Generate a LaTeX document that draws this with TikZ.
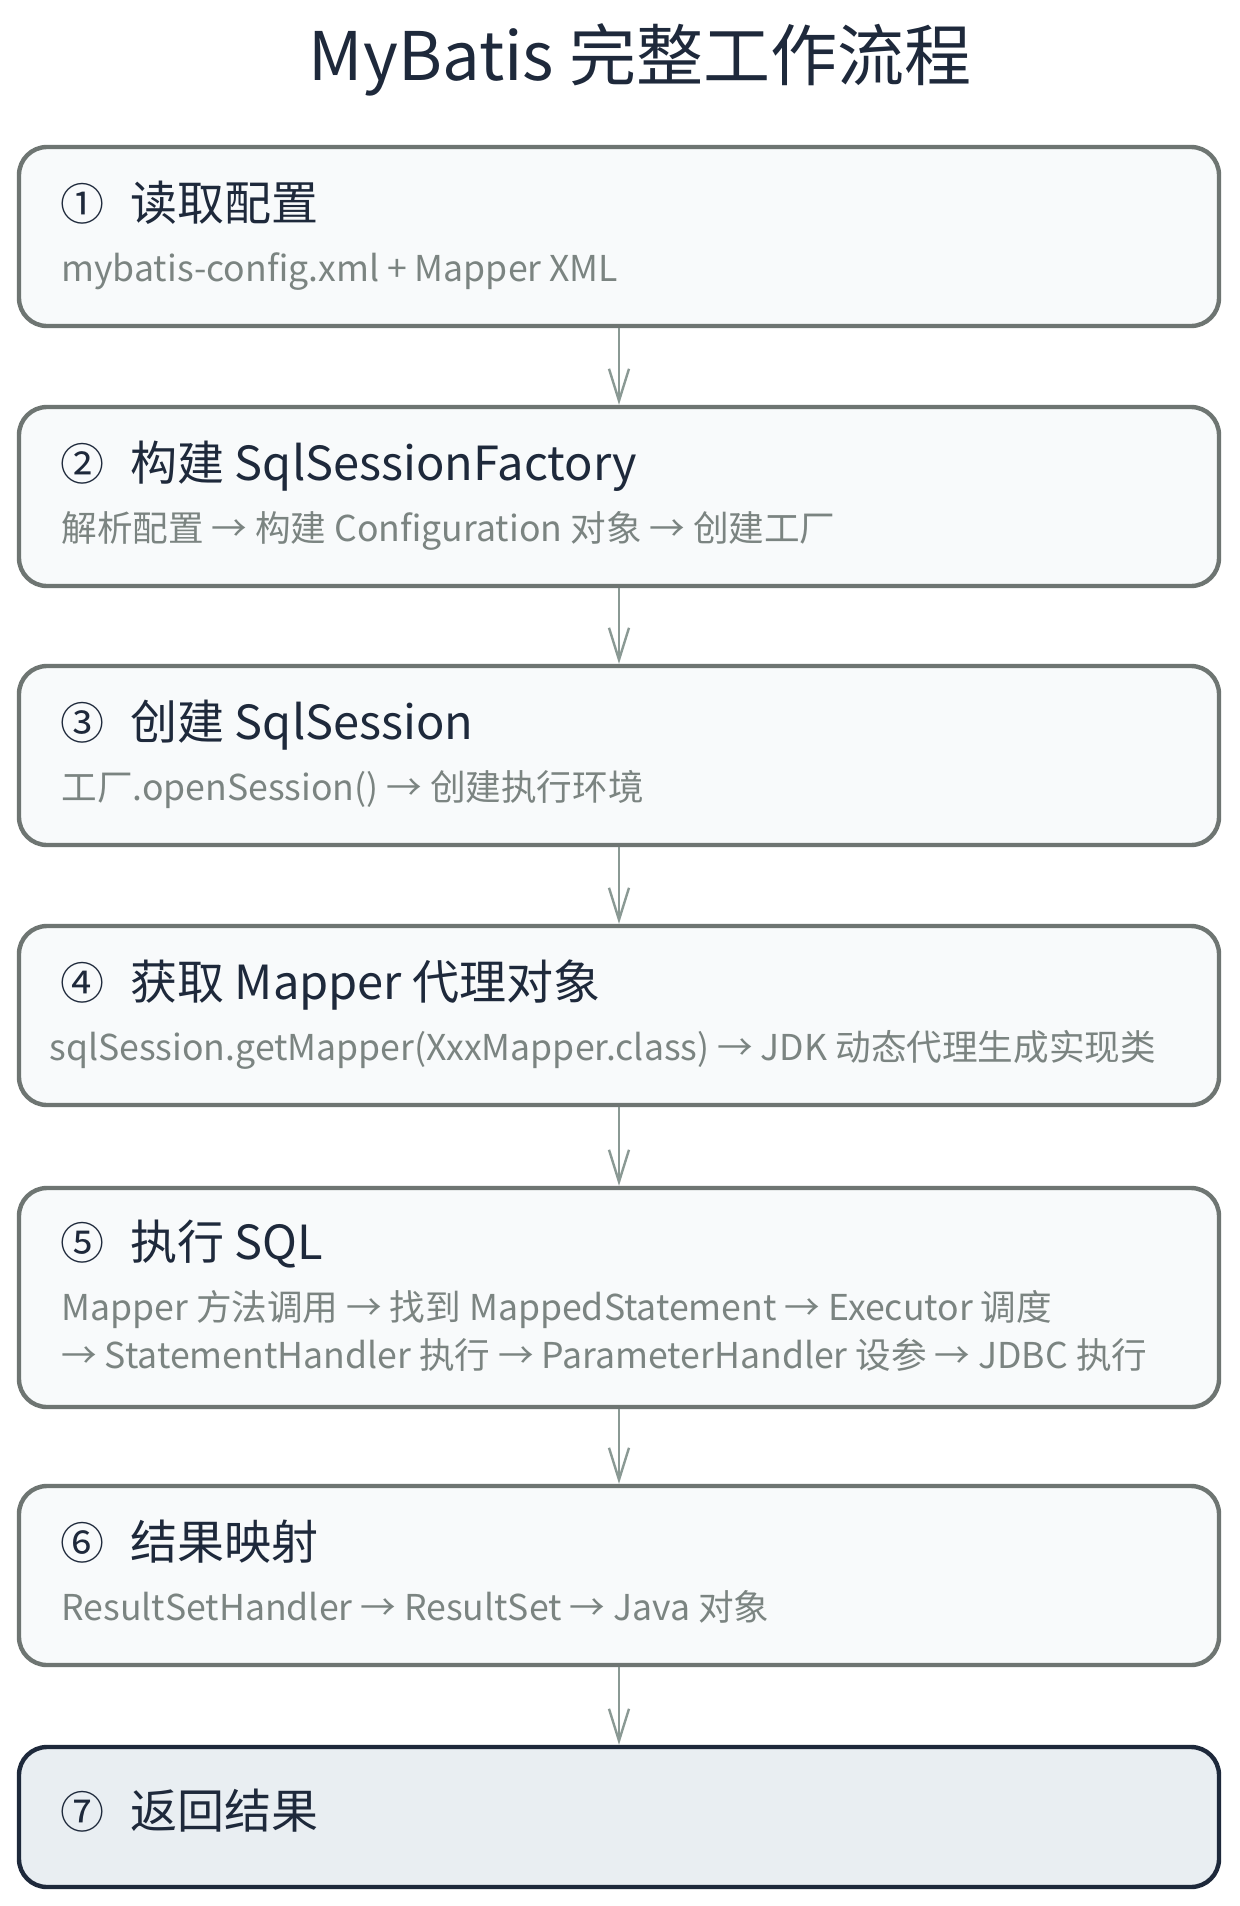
\documentclass[tikz,border=0pt]{standalone}
\usepackage{fontspec}
\setmainfont{Noto Sans CJK SC}
\usetikzlibrary{arrows.meta}
\definecolor{ink}{HTML}{1E293B}
\definecolor{subc}{HTML}{7B8481}
\definecolor{edgec}{HTML}{6E7572}
\definecolor{fillc}{HTML}{F8FAFB}
\definecolor{lastfill}{HTML}{E9EEF2}
\definecolor{arrowc}{HTML}{8A9994}
\begin{document}
\begin{tikzpicture}[x=0.5pt,y=-0.5pt,
  stepbox/.style={draw=edgec, line width=2.2pt, fill=fillc, rounded corners=14pt,
    minimum width=600pt, inner sep=0pt},
  lastbox/.style={stepbox, draw=ink, fill=lastfill},
  numtxt/.style={anchor=base, inner sep=0pt, text=ink, font=\fontsize{22pt}{26pt}\selectfont},
  headtxt/.style={anchor=base west, inner sep=0pt, text=ink, font=\fontsize{23.5pt}{28pt}\selectfont},
  subtxt/.style={anchor=base west, inner sep=0pt, text=subc, font=\fontsize{17.8pt}{21pt}\selectfont},
  flow/.style={draw=arrowc, line width=1.2pt, -{Straight Barb[length=16pt,width=10pt]}}
]
\useasboundingbox[fill=white] (0,0) rectangle (1240,1906);

\node[anchor=base, inner sep=0pt, text=ink, font=\fontsize{33.5pt}{38pt}\selectfont] (title) at (640,80) {MyBatis 完整工作流程};

% boxes
\node[stepbox, minimum height=89.5pt] (b1) at (619,236.5) {};
\node[stepbox, minimum height=89.5pt] (b2) at (619,496.5) {};
\node[stepbox, minimum height=89.5pt] (b3) at (619,755.5) {};
\node[stepbox, minimum height=89.5pt] (b4) at (619,1015.5) {};
\node[stepbox, minimum height=109.5pt] (b5) at (619,1297.5) {};
\node[stepbox, minimum height=89.5pt] (b6) at (619,1575.5) {};
\node[lastbox, minimum height=70pt] (b7) at (619,1817) {};

% box 1
\node[numtxt] (n1) at (83,220) {①};
\node[headtxt] (h1) at (130,220) {读取配置};
\node[subtxt] (s1) at (61,281) {mybatis-config.xml + Mapper XML};
% box 2
\node[numtxt] (n2) at (83,480) {②};
\node[headtxt] (h2) at (130,480) {构建 SqlSessionFactory};
\node[subtxt] (s2) at (61,541) {解析配置 → 构建 Configuration 对象 → 创建工厂};
% box 3
\node[numtxt] (n3) at (83,739) {③};
\node[headtxt] (h3) at (130,739) {创建 SqlSession};
\node[subtxt] (s3) at (61,800) {工厂.openSession() → 创建执行环境};
% box 4
\node[numtxt] (n4) at (83,999) {④};
\node[headtxt] (h4) at (130,999) {获取 Mapper 代理对象};
\node[subtxt] (s4) at (49,1060) {sqlSession.getMapper(XxxMapper.class) → JDK 动态代理生成实现类};
% box 5
\node[numtxt] (n5) at (83,1259) {⑤};
\node[headtxt] (h5) at (130,1259) {执行 SQL};
\node[subtxt] (s5a) at (61,1320) {Mapper 方法调用 → 找到 MappedStatement → Executor 调度};
\node[subtxt] (s5b) at (61,1368) {→ StatementHandler 执行 → ParameterHandler 设参 → JDBC 执行};
% box 6
\node[numtxt] (n6) at (83,1559) {⑥};
\node[headtxt] (h6) at (130,1559) {结果映射};
\node[subtxt] (s6) at (61,1620) {ResultSetHandler → ResultSet → Java 对象};
% box 7
\node[numtxt] (n7) at (83,1828) {⑦};
\node[headtxt] (h7) at (130,1828) {返回结果};

% connectors
\draw[flow] (b1.south) -- (b2.north);
\draw[flow] (b2.south) -- (b3.north);
\draw[flow] (b3.south) -- (b4.north);
\draw[flow] (b4.south) -- (b5.north);
\draw[flow] (b5.south) -- (b6.north);
\draw[flow] (b6.south) -- (b7.north);
\end{tikzpicture}
\end{document}
